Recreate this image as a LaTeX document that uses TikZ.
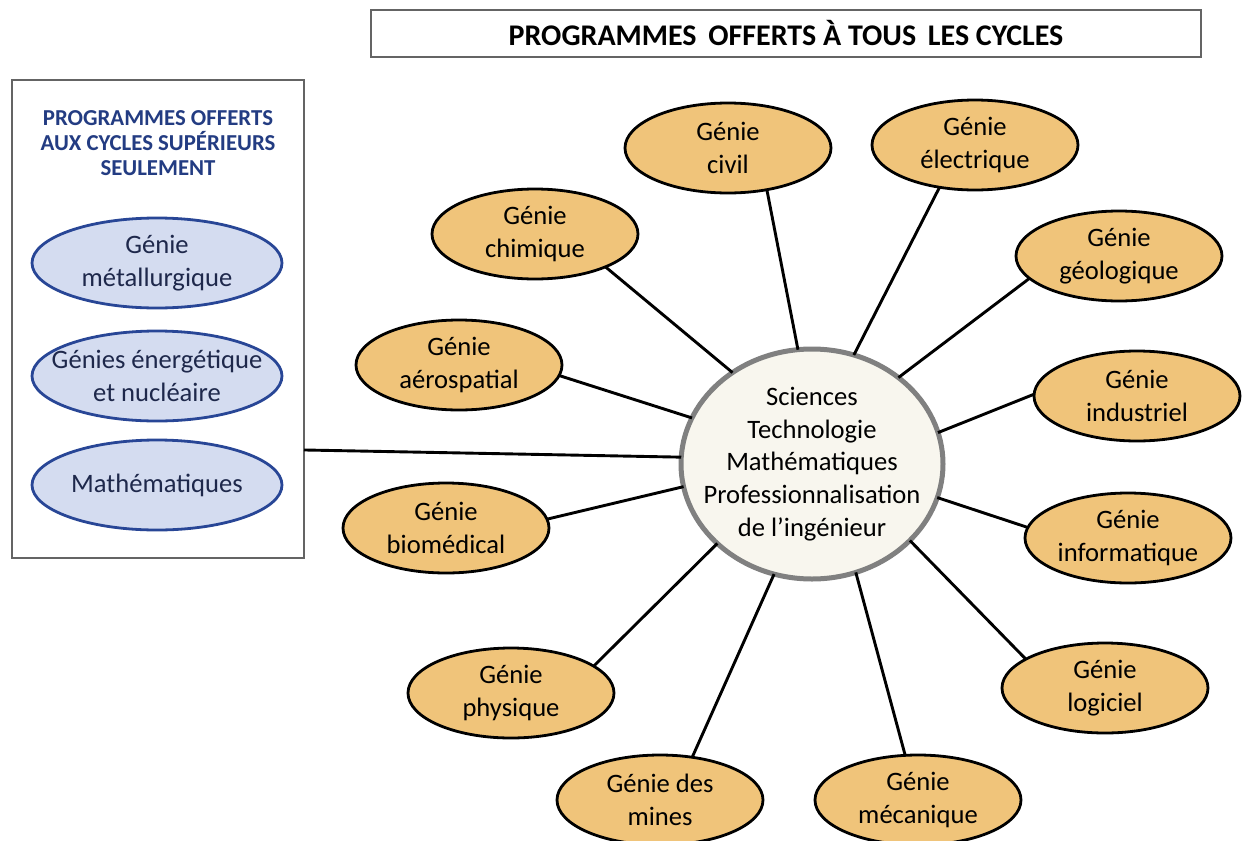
\documentclass[tikz,border=0pt]{standalone}
\usepackage{fontspec}
\setmainfont{Carlito}
\usetikzlibrary{shapes.geometric,calc}
\definecolor{orfill}{RGB}{240,196,122}
\definecolor{blfill}{RGB}{212,220,240}
\definecolor{bldraw}{RGB}{40,70,150}
\definecolor{bltext}{RGB}{30,40,75}
\definecolor{hdblue}{RGB}{35,60,130}
\definecolor{ctrfill}{RGB}{248,246,238}
\definecolor{ctrdraw}{RGB}{128,128,128}
\definecolor{boxdraw}{RGB}{100,100,100}
\begin{document}
\begin{tikzpicture}[x=0.5pt,y=-0.5pt,
  every node/.style={outer sep=0pt},
  txt/.style={font=\fontsize{13.3}{16.4}\selectfont, align=center},
  orell/.style={ellipse, txt, draw=black, line width=1.4pt, fill=orfill,
     minimum width=103pt, minimum height=45pt, inner sep=0pt},
  blell/.style={ellipse, txt, draw=bldraw, line width=1.4pt, fill=blfill, text=bltext,
     minimum width=125pt, minimum height=45pt, inner xsep=-12pt, inner ysep=0pt},
  ctrell/.style={ellipse, txt, draw=ctrdraw, line width=2.5pt, fill=ctrfill,
     minimum width=131pt, minimum height=115pt, inner xsep=-12pt, inner ysep=0pt},
  framebox/.style={rectangle, draw=boxdraw, line width=1pt, fill=white, inner sep=0pt},
  link/.style={line width=1.45pt, draw=black}
]
\useasboundingbox (0,0) rectangle (1243,841);
\fill[white] (0,0) rectangle (1243,841);

% title box
\node[framebox, minimum width=415pt, minimum height=23.5pt, font=\fontsize{15}{18}\selectfont\bfseries] (title) at (786,33) {PROGRAMMES\, OFFERTS À TOUS\, LES CYCLES};

% left box
\node[framebox, minimum width=146pt, minimum height=239pt] (lbox) at (158,319) {};
\node[font=\fontsize{11.4}{12.6}\selectfont\bfseries, text=hdblue, align=center] (hdr) at (158,143)
  {PROGRAMMES OFFERTS\\AUX CYCLES SUPÉRIEURS\\SEULEMENT};
\node[blell] (met) at (157,263) {Génie\\métallurgique};
\node[blell] (ene) at (157,376) {Génies énergétique\\et nucléaire};
\node[blell] (mat) at (157,485) {Mathématiques};

% centre
\node[ctrell] (ctr) at (812,464) {Sciences\\Technologie\\Mathématiques\\Professionnalisation\\de l’ingénieur};

% orange nodes
\node[orell] (civ) at (728,148) {Génie\\civil};
\node[orell] (ele) at (975,145) {Génie\\électrique};
\node[orell] (chi) at (535,234) {Génie\\chimique};
\node[orell] (geo) at (1119,256) {Génie\\géologique};
\node[orell] (aer) at (459,365) {Génie\\aérospatial};
\node[orell] (ind) at (1137,396) {Génie\\industriel};
\node[orell] (bio) at (446,528) {Génie\\biomédical};
\node[orell] (inf) at (1128,538) {Génie\\informatique};
\node[orell] (phy) at (511,693) {Génie\\physique};
\node[orell] (log) at (1105,688) {Génie\\logiciel};
\node[orell] (min) at (660,800) {Génie des\\mines};
\node[orell] (mec) at (918,800) {Génie\\mécanique};

% connectors
\draw[link] ($(lbox.north east)!0.774!(lbox.south east)$) -- (ctr.177);
\draw[link] (civ.-47) -- (ctr.97);
\draw[link] (ele.230) -- (ctr.69);
\draw[link] (chi.-25) -- (ctr.131.7);
\draw[link] (geo.194) -- (ctr.45.3);
\draw[link] (aer.-6.6) -- (ctr.159);
\draw[link] (ind.179) -- (ctr.14);
\draw[link] (bio.5) -- (ctr.190);
\draw[link] (inf.174) -- (ctr.-15.7);
\draw[link] (phy.18) -- (ctr.220.5);
\draw[link] (log.160.4) -- (ctr.-38);
\draw[link] (min.53) -- (ctr.251);
\draw[link] (mec.106.8) -- (ctr.-68);
\end{tikzpicture}
\end{document}
